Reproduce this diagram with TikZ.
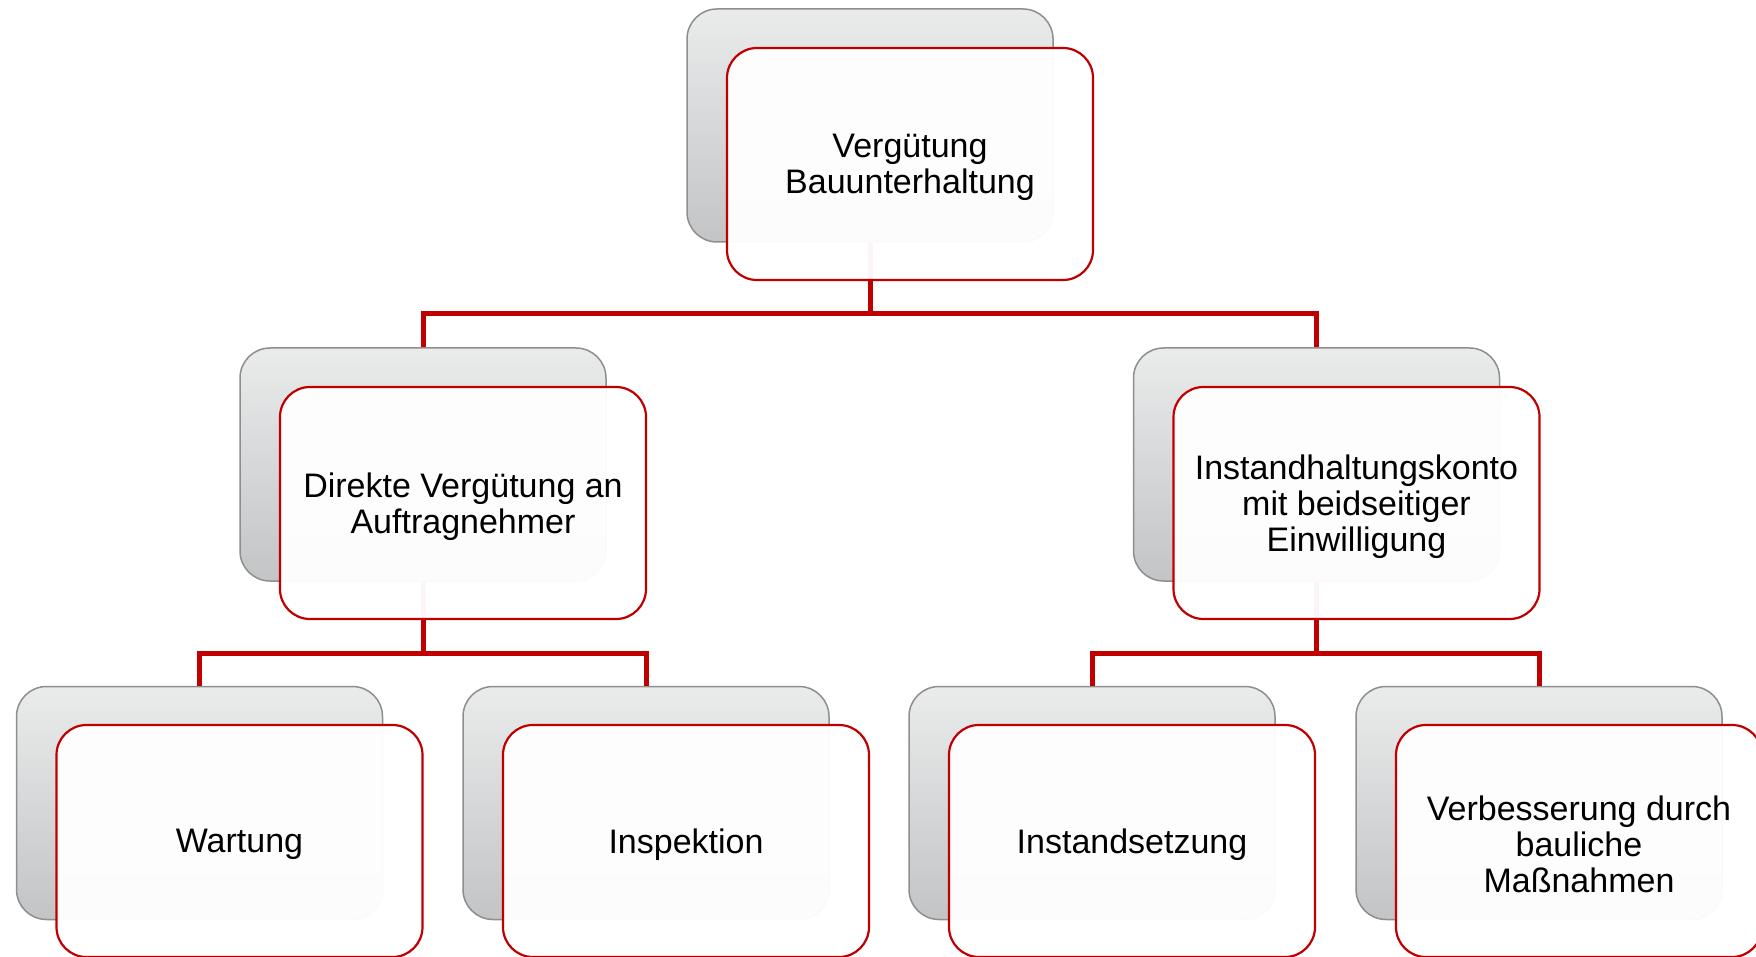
\documentclass[tikz,border=0pt]{standalone}
\usepackage{fontspec}
\setmainfont{Liberation Sans}
\definecolor{redline}{HTML}{C00000}
\definecolor{grayborder}{HTML}{8E8E8E}
\definecolor{graytop}{HTML}{EAEBEB}
\definecolor{graybot}{HTML}{C3C4C6}
\begin{document}
\begin{tikzpicture}[x=1pt,y=-1pt,
  backbox/.style={rounded corners=30pt, minimum width=366pt, minimum height=233pt,
    draw=grayborder, line width=1.5pt, top color=graytop, bottom color=graybot, inner sep=0pt},
  frontbox/.style={rounded corners=30pt, minimum width=366pt, minimum height=232pt,
    draw=redline, line width=2.2pt, fill=white, fill opacity=0.96, inner sep=0pt},
  lbl/.style={align=center, inner sep=0pt, font=\fontsize{34}{36}\selectfont},
  conn/.style={draw=redline, line width=5pt}]
\useasboundingbox (0,0) rectangle (1756,957);
\clip (0,0) rectangle (1756,957);
\fill[white] (0,0) rectangle (1756,957);
% back boxes
\node[backbox] (b1) at (870,125.5) {};
\node[backbox] (b2a) at (423,464.5) {};
\node[backbox] (b2b) at (1316.5,464.5) {};
\node[backbox] (b3a) at (199.5,803) {};
\node[backbox] (b3b) at (646,803) {};
\node[backbox] (b3c) at (1092,803) {};
\node[backbox] (b3d) at (1539,803) {};
% connectors
\coordinate (j1) at (870,314);
\coordinate (j2) at (423,653);
\coordinate (j3) at (1316.5,653);
\draw[conn] (b1.south) -- (j1);
\draw[conn] (b2a.north) |- (j1) -| (b2b.north);
\draw[conn] (b2a.south) -- (j2);
\draw[conn] (b3a.north) |- (j2) -| (b3b.north);
\draw[conn] (b2b.south) -- (j3);
\draw[conn] (b3c.north) |- (j3) -| (b3d.north);
% front boxes
\node[frontbox] (f1) at (910,164) {};
\node[frontbox] (f2a) at (463,503) {};
\node[frontbox] (f2b) at (1356.5,503) {};
\node[frontbox] (f3a) at (239.5,841) {};
\node[frontbox] (f3b) at (686,841) {};
\node[frontbox] (f3c) at (1132,841) {};
\node[frontbox] (f3d) at (1579,841) {};
% texts
\node[lbl] (t1) at ([yshift=-3.5pt]f1.center) {Vergütung\\Bauunterhaltung};
\node[lbl] (t2a) at ([yshift=-3.5pt]f2a.center) {Direkte Vergütung an\\Auftragnehmer};
\node[lbl] (t2b) at ([yshift=-3.5pt]f2b.center) {Instandhaltungskonto\\mit beidseitiger\\Einwilligung};
\node[lbl] (t3a) at ([yshift=-3.5pt]f3a.center) {Wartung};
\node[lbl] (t3b) at ([yshift=-3.5pt]f3b.center) {Inspektion};
\node[lbl] (t3c) at ([yshift=-3.5pt]f3c.center) {Instandsetzung};
\node[lbl] (t3d) at ([yshift=-3.5pt]f3d.center) {Verbesserung durch\\bauliche\\Maßnahmen};
\end{tikzpicture}
\end{document}
